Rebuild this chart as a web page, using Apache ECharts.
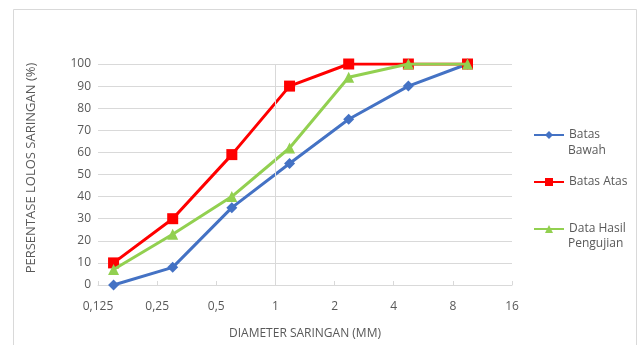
<!DOCTYPE html>
<html>
<head>
<meta charset="utf-8">
<script src="https://cdn.jsdelivr.net/npm/echarts@6/dist/echarts.min.js"></script>
<style>
html,body{margin:0;padding:0;background:#fff;}
#chart{width:638px;height:345px;}
</style>
</head>
<body>
<div id="chart"></div>
<script>
// Sieve sizes (mm)
const sieveSizes = [0.15, 0.3, 0.6, 1.18, 2.36, 4.75, 9.5];
// Series values (% passing)
const batasBawah = [0, 8, 35, 55, 75, 90, 100];
const batasAtas = [10, 30, 59, 90, 100, 100, 100];
const dataHasil = [7, 23, 40, 62, 94, 100, 100];
// Axis ticks
const xTicks = [0.125, 0.25, 0.5, 1, 2, 4, 8, 16];
const seriesNames = ['Batas Bawah', 'Batas Atas', 'Data Hasil Pengujian'];

const FONT = 'Open Sans';
const GREY = '#595959';

function pairs(ys) { return sieveSizes.map((x, i) => [x, ys[i]]); }
function fmtX(v) {
  return String(Number(Number(v).toPrecision(6))).replace('.', ',');
}

const chart = echarts.init(document.getElementById('chart'), null, {renderer: 'canvas'});
chart.setOption({
  animation: false,
  backgroundColor: '#fff',
  textStyle: {fontFamily: FONT},
  grid: {left: 98, right: 126, top: 64, bottom: 58, containLabel: false},
  xAxis: {
    type: 'log', logBase: 2, min: xTicks[0], max: xTicks[xTicks.length - 1], interval: 1,
    name: 'DIAMETER SARINGAN (MM)', nameLocation: 'middle', nameGap: 43,
    nameTextStyle: {color: GREY, fontSize: 12, fontFamily: FONT},
    axisLine: {show: true, lineStyle: {color: '#d9d9d9', width: 1}},
    axisTick: {show: true, inside: true, length: 4, lineStyle: {color: '#d9d9d9'}},
    axisLabel: {color: GREY, fontSize: 12, fontFamily: FONT, margin: 16, formatter: fmtX},
    splitLine: {show: false},
    minorTick: {show: false}
  },
  yAxis: {
    type: 'value', min: 0, max: 100, interval: 10,
    axisLine: {show: false}, axisTick: {show: false},
    axisLabel: {color: GREY, fontSize: 12, fontFamily: FONT, margin: 7},
    splitLine: {show: true, lineStyle: {color: '#d9d9d9', width: 1}}
  },
  legend: {
    orient: 'vertical', left: 533, top: 127, padding: 0,
    itemWidth: 30, itemHeight: 10, itemGap: 31,
    data: seriesNames,
    formatter: function (n) { return n === 'Batas Bawah' ? 'Batas' : (n === 'Data Hasil Pengujian' ? 'Data Hasil' : n); },
    textStyle: {color: GREY, fontSize: 12, lineHeight: 16, fontFamily: FONT}
  },
  graphic: [
    {type: 'rect', silent: true, z: -10, shape: {x: 13.5, y: 9.5, width: 623, height: 400},
     style: {fill: 'none', stroke: '#d9d9d9', lineWidth: 1}},
    {type: 'text', x: 31, y: 168, rotation: Math.PI / 2,
     style: {text: 'PERSENTASE LOLOS SARINGAN (%)', fill: GREY, font: '13px "Open Sans"', align: 'center', verticalAlign: 'middle'}},
    {type: 'text', x: 568, y: 151, style: {text: 'Bawah', fill: GREY, font: '12px "Open Sans"', verticalAlign: 'middle'}},
    {type: 'text', x: 568, y: 244, style: {text: 'Pengujian', fill: GREY, font: '12px "Open Sans"', verticalAlign: 'middle'}}
  ],
  series: [
    {type: 'line', data: [], z: 1, silent: true,
     markLine: {silent: true, symbol: 'none', label: {show: false},
       lineStyle: {color: '#d9d9d9', width: 1, type: 'solid'},
       data: [{xAxis: 1}]}},
    {name: seriesNames[0], type: 'line', data: pairs(batasBawah), z: 2,
     symbol: 'diamond', symbolSize: 11,
     itemStyle: {color: '#4472C4'}, lineStyle: {color: '#4472C4', width: 3}},
    {name: seriesNames[1], type: 'line', data: pairs(batasAtas), z: 3,
     symbol: 'rect', symbolSize: 11,
     itemStyle: {color: '#FF0000'}, lineStyle: {color: '#FF0000', width: 3}},
    {name: seriesNames[2], type: 'line', data: pairs(dataHasil), z: 4,
     symbol: 'triangle', symbolSize: 11,
     itemStyle: {color: '#92D050'}, lineStyle: {color: '#92D050', width: 3}}
  ]
});
</script>
</body>
</html>
